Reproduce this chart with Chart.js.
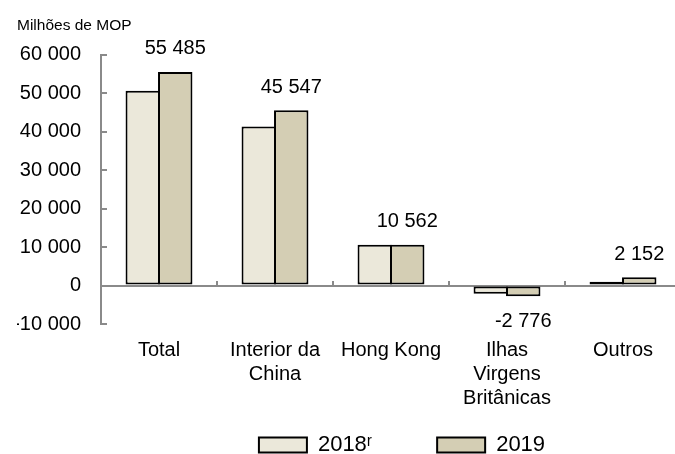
<!DOCTYPE html>
<html lang="pt">
<head>
<meta charset="utf-8">
<script src="https://cdn.jsdelivr.net/npm/chart.js@4.4.1/dist/chart.umd.min.js"></script>
<style>
  html, body { margin: 0; padding: 0; overflow: hidden; background: #fff; }
</style>
</head>
<body>
<canvas id="investimentoChart" width="683" height="454"></canvas>
<script>
const categorias = ['Total', ['Interior da', 'China'], 'Hong Kong', ['Ilhas', 'Virgens', 'Britânicas'], 'Outros'];
const serie2018 = [50630, 41300, 10560, -2170, 1000];
const serie2019 = [55485, 45547, 10562, -2776, 2152];
const nomesSeries = ['2018ʳ', '2019'];
const eixoYMin = -10000;
const eixoYMax = 60000;
const eixoYPasso = 10000;

const fonte = "'Liberation Sans', Arial, sans-serif";
const cinza = '#8a8a8a';

function formatar(v) {
  const s = String(Math.abs(Math.round(v))).replace(/\B(?=(\d{3})+(?!\d))/g, ' ');
  return v < 0 ? '-' + s : s;
}

// valores escritos por cima das barras de 2019
const rotulosValores = {
  id: 'rotulosValores',
  afterDatasetsDraw(chart) {
    const ctx = chart.ctx;
    const meta = chart.getDatasetMeta(1);
    ctx.save();
    ctx.font = '20px ' + fonte;
    ctx.fillStyle = '#000';
    ctx.textAlign = 'center';
    ctx.textBaseline = 'middle';
    meta.data.forEach((barra, i) => {
      const v = serie2019[i];
      ctx.fillText(formatar(v), barra.x, v >= 0 ? barra.y - 23 : barra.y + 25);
    });
    ctx.restore();
  }
};

// a legenda do original fica um pouco à direita do centro
const deslocarLegenda = {
  id: 'deslocarLegenda',
  afterLayout(chart) {
    chart.legend.left += 11;
    chart.legend.right += 11;
  }
};

const ctx = document.getElementById('investimentoChart').getContext('2d');

new Chart(ctx, {
  type: 'bar',
  data: {
    labels: categorias,
    datasets: [{
      label: nomesSeries[0],
      data: serie2018,
      backgroundColor: '#ebe8da',
      borderColor: '#000',
      borderWidth: 2,
      borderSkipped: false,
      barPercentage: 1.06,
      categoryPercentage: 0.56
    }, {
      label: nomesSeries[1],
      data: serie2019,
      backgroundColor: '#d4ceb4',
      borderColor: '#000',
      borderWidth: 2,
      borderSkipped: false,
      barPercentage: 1.06,
      categoryPercentage: 0.56
    }]
  },
  options: {
    responsive: false,
    animation: false,
    layout: { padding: { left: 17, right: 2, top: 0, bottom: -12 } },
    scales: {
      x: {
        grid: { display: false, drawTicks: false },
        border: { display: false },
        ticks: { color: '#000', padding: 14, maxRotation: 0, autoSkip: false, font: { size: 20, family: fonte } }
      },
      x2: {
        type: 'category',
        position: { y: 0 },
        offset: true,
        z: 1,
        ticks: { display: false },
        grid: { offset: true, drawOnChartArea: false, tickLength: -6, color: cinza, lineWidth: 2 },
        border: { color: cinza, width: 2 }
      },
      y: {
        min: eixoYMin,
        max: eixoYMax,
        ticks: {
          stepSize: eixoYPasso,
          padding: 26,
          color: '#000',
          font: { size: 20, family: fonte },
          callback: v => formatar(v)
        },
        grid: { drawOnChartArea: false, tickLength: -6, color: cinza, lineWidth: 2 },
        border: { color: cinza, width: 2 },
        afterFit(scale) { scale.width = 84; }
      }
    },
    plugins: {
      title: {
        display: true,
        text: 'Milhões de MOP',
        align: 'start',
        color: '#000',
        font: { size: 15.5, family: fonte, weight: 'normal' },
        padding: { top: 16, bottom: 20 }
      },
      legend: {
        position: 'bottom',
        fullSize: false,
        labels: {
          boxWidth: 48,
          boxHeight: 15,
          padding: 10,
          color: '#000',
          font: { size: 22, family: fonte },
          generateLabels(chart) {
            const itens = Chart.defaults.plugins.legend.labels.generateLabels(chart);
            itens[0].text += '         ';
            return itens;
          }
        }
      },
      tooltip: { enabled: false }
    }
  },
  plugins: [rotulosValores, deslocarLegenda]
});
</script>
</body>
</html>
